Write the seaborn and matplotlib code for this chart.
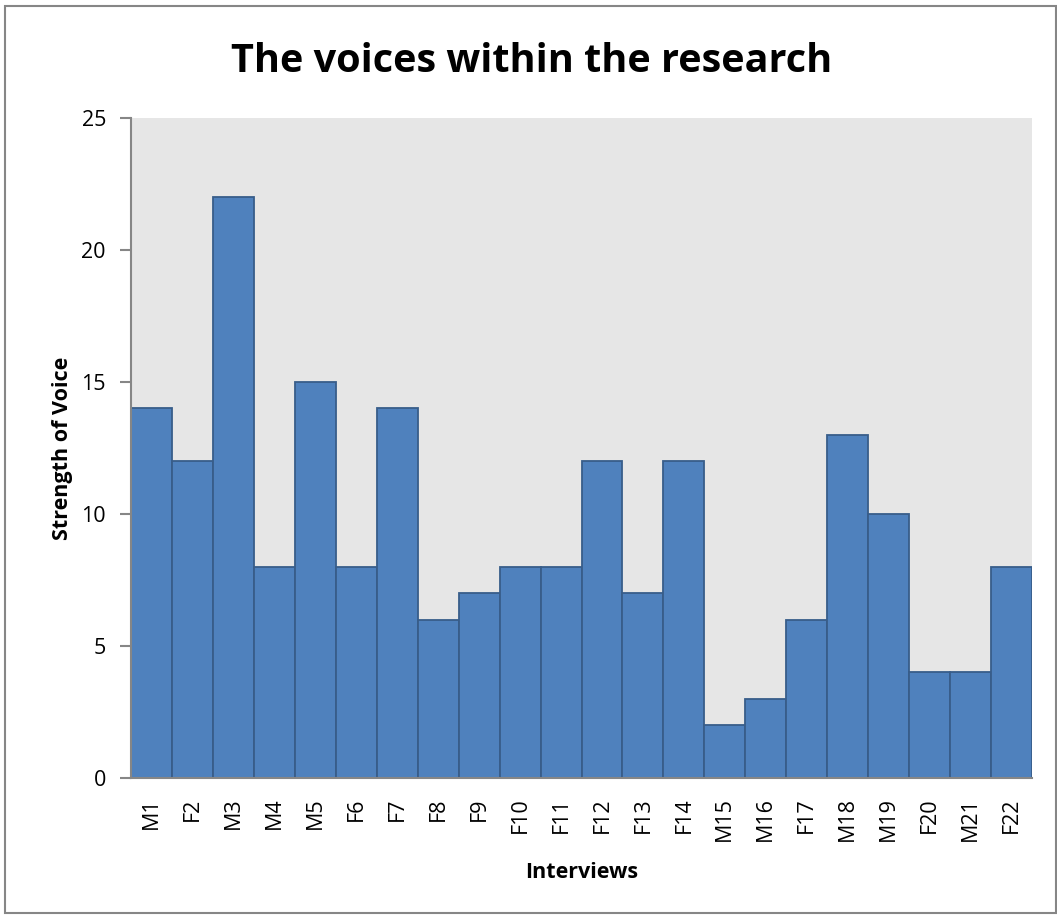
import numpy as np
import pandas as pd
import matplotlib
matplotlib.use("Agg")
import matplotlib.pyplot as plt
import seaborn as sns
from matplotlib.patches import Rectangle

# interview labels and how strong each voice is
interviews = ['M1', 'F2', 'M3', 'M4', 'M5', 'F6', 'F7', 'F8', 'F9', 'F10', 'F11',
              'F12', 'F13', 'F14', 'M15', 'M16', 'F17', 'M18', 'M19', 'F20', 'M21', 'F22']
strength = [14, 12, 22, 8, 15, 8, 14, 6, 7, 8, 8, 12, 7, 12, 2, 3, 6, 13, 10, 4, 4, 8]
y_ticks = [0, 5, 10, 15, 20, 25]

df = pd.DataFrame({'Interview': interviews, 'Strength': strength})

sns.set_style("white")
plt.rcParams['font.family'] = ['Open Sans', 'DejaVu Sans']
plt.rcParams['text.color'] = 'black'
plt.rcParams['axes.labelcolor'] = 'black'
plt.rcParams['xtick.color'] = 'black'
plt.rcParams['ytick.color'] = 'black'

fig = plt.figure(figsize=(10.57, 9.15), dpi=100)
ax = fig.add_axes([131 / 1057, 1 - 778 / 915, (1032 - 131) / 1057, (778 - 118) / 915])

sns.barplot(data=df, x='Interview', y='Strength', color='#4F81BD', width=1.0,
            edgecolor='#385D8A', linewidth=1.3, saturation=1, ax=ax)

ax.set_facecolor('#E6E6E6')
ax.set_xlim(-0.5, len(interviews) - 0.5)
ax.set_ylim(0, 25)
ax.set_yticks(y_ticks)
ax.tick_params(axis='y', labelsize=15.5, length=8, color='#868686', width=1.5,
               direction='out', left=True, labelcolor='black', pad=10)
ax.tick_params(axis='x', labelsize=15.5, length=0, rotation=90, pad=14, labelcolor='black')

for s in ['top', 'right']:
    ax.spines[s].set_visible(False)
for s in ['left', 'bottom']:
    ax.spines[s].set_color('#868686')
    ax.spines[s].set_linewidth(1.5)

ax.set_xlabel('Interviews', fontsize=15.5, fontweight='bold', labelpad=15)
ax.set_ylabel('Strength of Voice', fontsize=15.5, fontweight='bold', labelpad=6)
fig.text(0.5025, 1 - 61 / 915, 'The voices within the research', fontsize=28.5,
         fontweight='bold', ha='center', va='center')

# chart border
fig.patches.append(Rectangle((5 / 1057, 0.002), 1 - 6 / 1057, 1 - 6 / 915 - 0.002,
                             transform=fig.transFigure, fill=False,
                             edgecolor='#868686', linewidth=1.5))

fig.savefig('out.png', dpi=100)
